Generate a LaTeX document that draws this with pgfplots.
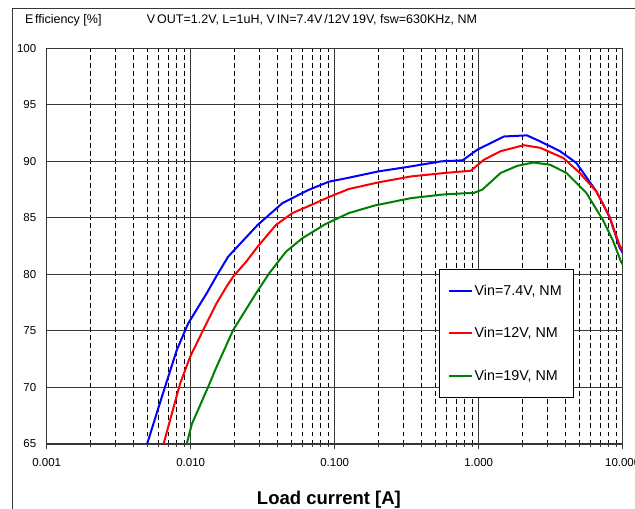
\documentclass[border=0pt]{standalone}
\usepackage{fontspec}
\setmainfont{Liberation Sans}
\usepackage{pgfplots}
\pgfplotsset{compat=1.18}
\definecolor{cblue}{RGB}{0,0,255}
\definecolor{cred}{RGB}{255,0,0}
\definecolor{cgreen}{RGB}{0,128,0}
\definecolor{gridmaj}{RGB}{55,55,55}
\begin{document}
\begin{tikzpicture}[x=1pt,y=1pt]
\begin{axis}[
  at={(46.7pt,65pt)}, anchor=south west,
  scale only axis, width=576pt, height=395.7pt,
  xmode=log, xmin=0.001, xmax=10, ymin=65, ymax=100,
  /pgf/number format/assume math mode=true,
  xtick={0.001,0.01,0.1,1,10},
  xticklabels={0.001,0.010,0.100,1.000,10.000},
  minor xtick={0.002,0.003,0.004,0.005,0.006,0.007,0.008,0.009,0.02,0.03,0.04,0.05,0.06,0.07,0.08,0.09,0.2,0.3,0.4,0.5,0.6,0.7,0.8,0.9,2,3,4,5,6,7,8,9},
  ytick={65,70,75,80,85,90,95,100},
  tick label style={font=\fontsize{11.5}{13}\selectfont, black},
  xticklabel style={yshift=-5.5pt},
  yticklabel style={xshift=-2pt},
  xmajorgrids, xminorgrids, ymajorgrids,
  major grid style={solid, line width=1.1pt, gridmaj},
  minor grid style={black, line width=0.8pt, dash pattern=on 4.5pt off 3.5pt},
  axis line style={gridmaj, line width=1.2pt},
  tick align=outside, xtick pos=bottom, ytick pos=left,
  major tick length=5pt, minor tick length=3pt,
  ytick style={draw=none},
  xtick style={gridmaj, line width=0.8pt},
  xlabel={Load current [A]},
  xlabel style={font=\fontsize{18.5}{20}\selectfont\bfseries, at={(axis description cs:0.49,-0.142)}, anchor=center},
  legend style={at={(axis description cs:0.6816,0.4415)}, anchor=north west,
    draw=black, fill=white,
    font=\fontsize{14.3}{16}\selectfont,
    inner xsep=9pt, inner ysep=13.5pt, row sep=26.5pt},
  legend cell align=left,
  legend image post style={line width=2pt, xscale=1.3},
]
\addplot[color=cblue, line width=2pt] coordinates {
(0.00498,65.0) (0.0063,69.15) (0.0080,73.3) (0.0096,75.66) (0.0129,78.32)
(0.0151,79.85) (0.0182,81.57) (0.0292,84.38) (0.0434,86.31) (0.0662,87.49)
(0.091,88.2) (0.125,88.55) (0.201,89.11) (0.341,89.56) (0.547,90.0)
(0.773,90.09) (0.98,91.04) (1.5,92.2) (2.16,92.3) (2.67,91.77) (3.67,90.9)
(4.77,89.86) (6.56,87.35) (8.1,85.1) (9.5,82.4) (10,81.9)};
\addlegendentry{Vin=7.4V, NM}
\addplot[color=cred, line width=2pt] coordinates {
(0.00648,65.0) (0.00739,67.67) (0.00844,70.34) (0.0099,72.7) (0.0122,75.07)
(0.0151,77.43) (0.0177,78.9) (0.0197,79.8) (0.0243,81.13) (0.0292,82.46)
(0.0391,84.38) (0.0508,85.42) (0.0736,86.31) (0.091,86.84) (0.125,87.55)
(0.201,88.14) (0.34,88.67) (0.578,88.97) (0.88,89.17) (1.09,90.15)
(1.42,90.9) (2.06,91.43) (2.67,91.2) (3.87,90.3) (5.04,88.97) (6.56,87.35)
(8.1,85.1) (9.5,82.6) (10,82.1)};
\addlegendentry{Vin=12V, NM}
\addplot[color=cgreen, line width=2pt] coordinates {
(0.00938,65.0) (0.0102,66.78) (0.0132,70.03) (0.0151,71.8) (0.0197,75.07)
(0.0284,78.32) (0.0351,80.1) (0.0458,82.0) (0.0596,83.2) (0.0863,84.45)
(0.125,85.42) (0.19,86.1) (0.34,86.75) (0.578,87.08) (0.93,87.22)
(1.06,87.5) (1.42,88.97) (1.85,89.6) (2.4,89.9) (3.13,89.7) (4.07,88.97)
(5.6,87.2) (7.3,84.8) (8.55,83.0) (9.75,81.1) (10,80.9)};
\addlegendentry{Vin=19V, NM}
\end{axis}
\node[anchor=west, font=\fontsize{12.5}{14}\selectfont, inner sep=0pt] at (25,489) {E\kern1.5pt fficiency [\%]};
\node[anchor=west, font=\fontsize{12.5}{14}\selectfont, inner sep=0pt] at (146.7,489) {V\kern2pt OUT=1.2V, L=1uH, V\kern2pt IN=7.4V\kern2pt/12V\kern2pt19V, fsw=630KHz, NM};
\draw[gridmaj, line width=1.2pt] (12.7,-5) -- (12.7,500.7) -- (650,500.7);
\pgfresetboundingbox
\path[use as bounding box] (0,0) rectangle (635,509);
\end{tikzpicture}
\end{document}
